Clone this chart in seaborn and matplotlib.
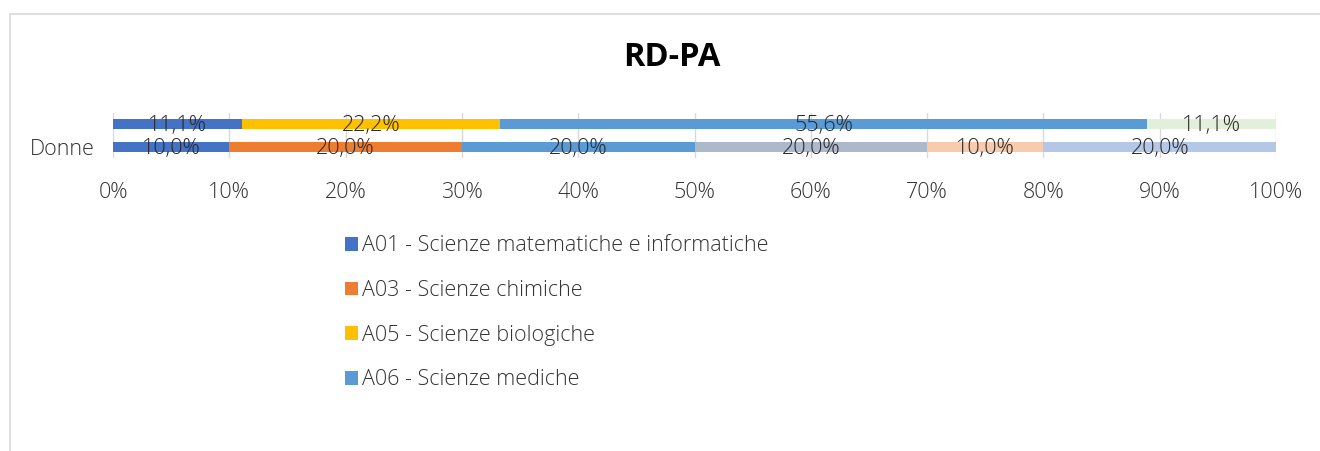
import matplotlib
matplotlib.use("Agg")
import matplotlib.pyplot as plt
import numpy as np
import pandas as pd
import seaborn as sns
from matplotlib.patches import Patch, Rectangle

# categories (top row has no visible label)
categories = [" ", "Donne"]
series = [
    "A01 - Scienze matematiche e informatiche",
    "A03 - Scienze chimiche",
    "A05 - Scienze biologiche",
    "A06 - Scienze mediche",
    "Serie 5",
    "Serie 6",
    "Serie 7",
    "Serie 8",
]
colors = ["#4472C4", "#ED7D31", "#FFC000", "#5B9BD5",
          "#ADB9CA", "#F8CBAD", "#B4C7E7", "#E2EFDA"]
# percentage per series, one value per category
top_values = [11.1, 0.0, 22.2, 55.6, 0.0, 0.0, 0.0, 11.1]
donne_values = [10.0, 20.0, 0.0, 20.0, 20.0, 10.0, 20.0, 0.0]
legend_shown = 4

sns.set_theme(style="white")
plt.rcParams["font.family"] = ["Open Sans", "DejaVu Sans"]
plt.rcParams["font.weight"] = "light"
text_color = "#333333"

values = np.array([top_values, donne_values])  # shape (cat, series)
cum = np.cumsum(values, axis=1)

fig = plt.figure(figsize=(13.2, 4.51), dpi=100)
ax = fig.add_axes([113 / 1320, 1 - 158 / 451, (1276 - 113) / 1320, 45 / 451])

# stacked bars: draw cumulative totals from the end backwards
for j in range(len(series) - 1, -1, -1):
    df = pd.DataFrame({"cat": categories, "val": cum[:, j]})
    sns.barplot(data=df, x="val", y="cat", orient="h", color=colors[j],
                width=0.45, saturation=1, ax=ax, edgecolor="none",
                zorder=2)

# data labels centred in each segment
for i, cat in enumerate(categories):
    for j in range(len(series)):
        v = values[i, j]
        if v <= 0:
            continue
        xc = cum[i, j] - v / 2
        ax.text(xc, i + 0.06, f"{v:.1f}%".replace(".", ","), ha="center",
                va="center", fontsize=15.5, color="#262626", zorder=5)

ax.set_xlim(0, 100)
ax.set_ylim(1.5, -0.5)
ax.set_xticks(np.arange(0, 101, 10))
ax.set_xticklabels([f"{t}%" for t in range(0, 101, 10)])
ax.xaxis.grid(True, color="#D9D9D9", linewidth=1, zorder=0)
ax.set_axisbelow(True)
ax.set_xlabel("")
ax.set_ylabel("")
for s in ax.spines.values():
    s.set_visible(False)
ax.tick_params(axis="x", labelsize=15.5, colors=text_color, length=0, pad=17)
ax.tick_params(axis="y", labelsize=15.5, colors=text_color, length=0, pad=13)

fig.suptitle("RD-PA", x=0.509, y=1 - 58 / 451, va="center", fontsize=23.5,
             fontweight="bold", color="black")

handles = [Patch(facecolor=colors[j], edgecolor="none") for j in range(legend_shown)]
leg = fig.legend(handles, series[:legend_shown], loc="upper left",
                 bbox_to_anchor=(326 / 1320, 1 - 216 / 451), frameon=False,
                 fontsize=15.5, labelspacing=1.1, handlelength=0.6,
                 handleheight=0.6, handletextpad=0.15)
for t in leg.get_texts():
    t.set_color(text_color)

# chart area frame
fig.patches.append(Rectangle((10 / 1320, -0.05), 1.2, 1 - 14 / 451 + 0.05,
                             transform=fig.transFigure, fill=False,
                             edgecolor="#D9D9D9", linewidth=1.2))

fig.savefig("out.png", dpi=100)
